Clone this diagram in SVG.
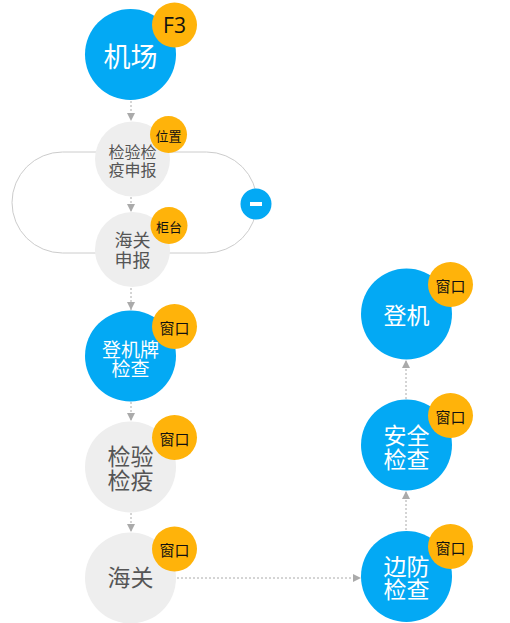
<svg xmlns="http://www.w3.org/2000/svg" width="510" height="623" viewBox="0 0 510 623">
<style>
.blue{fill:#03a9f4}
.gray{fill:#eeeeee}
.badge{fill:#ffb30a}
.t{font-family:"Noto Sans CJK SC","Liberation Sans",sans-serif;text-anchor:middle;dominant-baseline:central}
.tw{fill:#ffffff}
.tg{fill:#555555}
.tb{fill:#111111}
.link{stroke:#aaaaaa;stroke-width:1;stroke-dasharray:2 2;fill:none}
.loop{stroke:#cccccc;stroke-width:1;fill:none}
</style>
<defs>
<marker id="ah" markerUnits="userSpaceOnUse" markerWidth="10" markerHeight="8" refX="8" refY="4" orient="auto">
<path d="M0,0 L8,4 L0,8 Z" fill="#aaaaaa"/>
</marker>
</defs>
<rect class="loop" x="12" y="152" width="245" height="101" rx="50.5" ry="50.5"/>
<g id="connectors">
<line class="link" x1="131" y1="101" x2="131" y2="121" marker-end="url(#ah)"/>
<line class="link" x1="131" y1="197" x2="131" y2="212" marker-end="url(#ah)"/>
<line class="link" x1="131" y1="288" x2="131" y2="310" marker-end="url(#ah)"/>
<line class="link" x1="131" y1="402" x2="131" y2="421" marker-end="url(#ah)"/>
<line class="link" x1="131" y1="513" x2="131" y2="532" marker-end="url(#ah)"/>
<line class="link" x1="177" y1="578" x2="361" y2="578" marker-end="url(#ah)"/>
<line class="link" x1="406" y1="530" x2="406" y2="491" marker-end="url(#ah)"/>
<line class="link" x1="406" y1="399" x2="406" y2="360" marker-end="url(#ah)"/>
</g>
<g id="airport">
<circle class="blue" cx="130.5" cy="54.5" r="45.5"/>
<text class="t tw" x="130.5" y="55" font-size="27">机场</text>
<circle class="badge" cx="174.5" cy="25" r="22.5"/>
<text class="t tb" x="174.5" y="25" font-size="21" style="font-family:'Open Sans','Noto Sans CJK SC',sans-serif">F3</text>
</g>
<g id="quarantine-declare">
<circle class="gray" cx="132.5" cy="159" r="37.5"/>
<text class="t tg" font-size="16"><tspan x="132.5" y="151">检验检</tspan><tspan x="132.5" y="168.5">疫申报</tspan></text>
<circle class="badge" cx="168.5" cy="134.5" r="18.5"/>
<text class="t tb" x="168.5" y="135" font-size="13">位置</text>
</g>
<g id="customs-declare">
<circle class="gray" cx="132.5" cy="249.5" r="37.5"/>
<text class="t tg" font-size="18"><tspan x="132.5" y="238.5">海关</tspan><tspan x="132.5" y="259">申报</tspan></text>
<circle class="badge" cx="169" cy="225.5" r="18.5"/>
<text class="t tb" x="169" y="226" font-size="13">柜台</text>
</g>
<g id="minus-button">
<circle cx="256" cy="204" r="15.5" fill="#03a9f4"/>
<rect x="250" y="202" width="12" height="4" fill="#ffffff"/>
</g>
<g id="boarding-pass-check">
<circle class="blue" cx="130.5" cy="356" r="45.5"/>
<text class="t tw" font-size="19"><tspan x="130.5" y="347.5">登机牌</tspan><tspan x="130.5" y="366.5">检查</tspan></text>
<circle class="badge" cx="174.5" cy="326.5" r="22.5"/>
<text class="t tb" x="174.5" y="327" font-size="15">窗口</text>
</g>
<g id="quarantine">
<circle class="gray" cx="130.5" cy="467" r="45.5"/>
<text class="t tg" font-size="23"><tspan x="130.5" y="455">检验</tspan><tspan x="130.5" y="479">检疫</tspan></text>
<circle class="badge" cx="174.5" cy="437.5" r="22.5"/>
<text class="t tb" x="174.5" y="438" font-size="15">窗口</text>
</g>
<g id="customs">
<circle class="gray" cx="130.5" cy="578" r="45.5"/>
<text class="t tg" x="130.5" y="576" font-size="23">海关</text>
<circle class="badge" cx="174.5" cy="549" r="22.5"/>
<text class="t tb" x="174.5" y="549.5" font-size="15">窗口</text>
</g>
<g id="border-check">
<circle class="blue" cx="406.5" cy="576.5" r="45.5"/>
<text class="t tw" font-size="23"><tspan x="406.5" y="565">边防</tspan><tspan x="406.5" y="588">检查</tspan></text>
<circle class="badge" cx="450.5" cy="546.5" r="22.5"/>
<text class="t tb" x="450.5" y="547" font-size="15">窗口</text>
</g>
<g id="security-check">
<circle class="blue" cx="406.5" cy="445" r="45.5"/>
<text class="t tw" font-size="23"><tspan x="406.5" y="434">安全</tspan><tspan x="406.5" y="457.5">检查</tspan></text>
<circle class="badge" cx="450.5" cy="415.5" r="22.5"/>
<text class="t tb" x="450.5" y="416" font-size="15">窗口</text>
</g>
<g id="boarding">
<circle class="blue" cx="406.5" cy="314" r="45.5"/>
<text class="t tw" x="406.5" y="314" font-size="23">登机</text>
<circle class="badge" cx="450.5" cy="284.5" r="22.5"/>
<text class="t tb" x="450.5" y="285" font-size="15">窗口</text>
</g>
</svg>
